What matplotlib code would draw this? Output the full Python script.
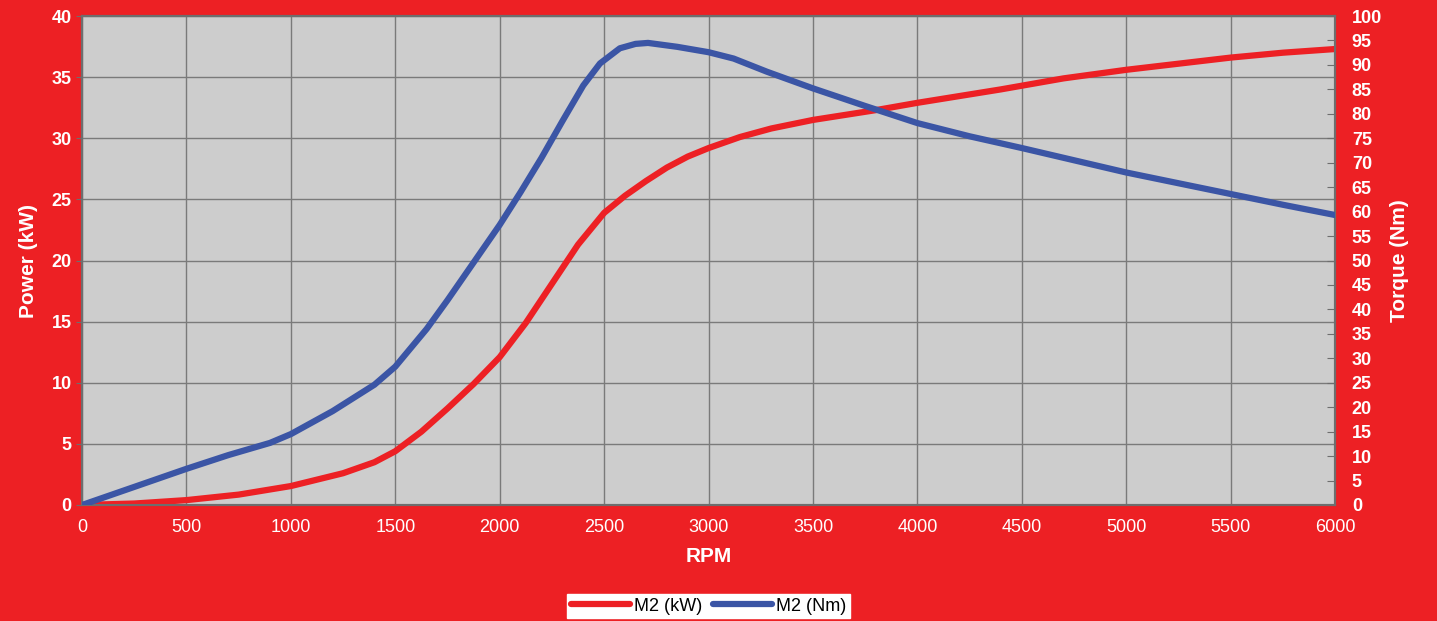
import matplotlib.pyplot as plt

plt.rcParams['font.family'] = ['Liberation Sans', 'DejaVu Sans']

# power curve (kW)
rpm_kw = [0, 250, 500, 750, 1000, 1250, 1400, 1500, 1625, 1750, 1875, 2000, 2125, 2250,
          2375, 2500, 2600, 2700, 2800, 2900, 3000, 3150, 3300, 3500, 3800, 4000, 4400,
          4700, 5000, 5250, 5500, 5750, 6000]
power_kw = [0, 0.12, 0.4, 0.85, 1.55, 2.6, 3.5, 4.4, 6.0, 7.9, 9.9, 12.1, 14.9, 18.1,
            21.3, 23.9, 25.3, 26.5, 27.6, 28.5, 29.2, 30.1, 30.8, 31.5, 32.3, 32.9, 34.0,
            34.9, 35.6, 36.1, 36.6, 37.0, 37.3]

# torque curve (Nm)
rpm_nm = [0, 250, 500, 700, 900, 1000, 1200, 1400, 1500, 1650, 1750, 1875, 2000, 2100,
          2200, 2300, 2400, 2480, 2575, 2650, 2710, 2850, 3000, 3120, 3280, 3500, 3750,
          4000, 4250, 4500, 4750, 5000, 5250, 5500, 5750, 6000]
torque_nm = [0, 3.7, 7.4, 10.2, 12.7, 14.5, 19.2, 24.6, 28.3, 36.0, 41.9, 49.6, 57.3, 64.0,
             71.0, 78.5, 85.8, 90.3, 93.4, 94.3, 94.5, 93.7, 92.6, 91.3, 88.6, 85.2, 81.6,
             78.1, 75.4, 73.0, 70.5, 68.0, 65.8, 63.6, 61.4, 59.3]

red = '#ED2024'
blue = '#3B55A5'

fig = plt.figure(figsize=(14.37, 6.21), dpi=100, facecolor=red)
ax = fig.add_axes([0.0571, 0.1868, 0.8720, 0.7874])
ax.set_facecolor('#CDCDCD')
ax2 = ax.twinx()

l1, = ax.plot(rpm_kw, power_kw, color=red, lw=4.5, solid_capstyle='round',
              solid_joinstyle='round', zorder=3)
l2, = ax2.plot(rpm_nm, torque_nm, color=blue, lw=4.5, solid_capstyle='round',
               solid_joinstyle='round', zorder=3)

ax.set_xlim(0, 6000)
ax.set_ylim(0, 40)
ax2.set_ylim(0, 100)
ax.set_xticks(range(0, 6001, 500))
ax.set_yticks(range(0, 41, 5))
ax2.set_yticks(range(0, 101, 5))

ax.grid(True, color='#7A7A7A', lw=1)
ax.set_axisbelow(True)

for a in (ax, ax2):
    for s in a.spines.values():
        s.set_color('#6E6E6E')
        s.set_linewidth(1.5)

ax.tick_params(axis='x', length=0, colors='white', labelsize=13, pad=10)
ax.tick_params(axis='y', length=4, color='#6E6E6E', labelcolor='white', labelsize=13)
ax2.tick_params(axis='y', direction='in', length=6, color='#6E6E6E', labelcolor='white',
                labelsize=13, pad=12)
for t in ax.get_yticklabels() + ax2.get_yticklabels():
    t.set_fontweight('bold')

ax.set_xlabel('RPM', color='white', fontsize=15, fontweight='bold', labelpad=8)
ax.set_ylabel('Power (kW)', color='white', fontsize=15, fontweight='bold', labelpad=10)
ax2.set_ylabel('Torque (Nm)', color='white', fontsize=15, fontweight='bold', labelpad=6)

leg = fig.legend([l1, l2], ['M2 (kW)', 'M2 (Nm)'], loc='center', bbox_to_anchor=(0.493, 0.024),
                 ncol=2, frameon=True, fancybox=False, framealpha=1, fontsize=13,
                 handlelength=3.3, handletextpad=0.2, columnspacing=0.6, borderpad=0.2,
                 borderaxespad=0)
leg.get_frame().set_facecolor('white')
leg.get_frame().set_edgecolor('white')

fig.savefig('out.png', dpi=100, facecolor=red)
